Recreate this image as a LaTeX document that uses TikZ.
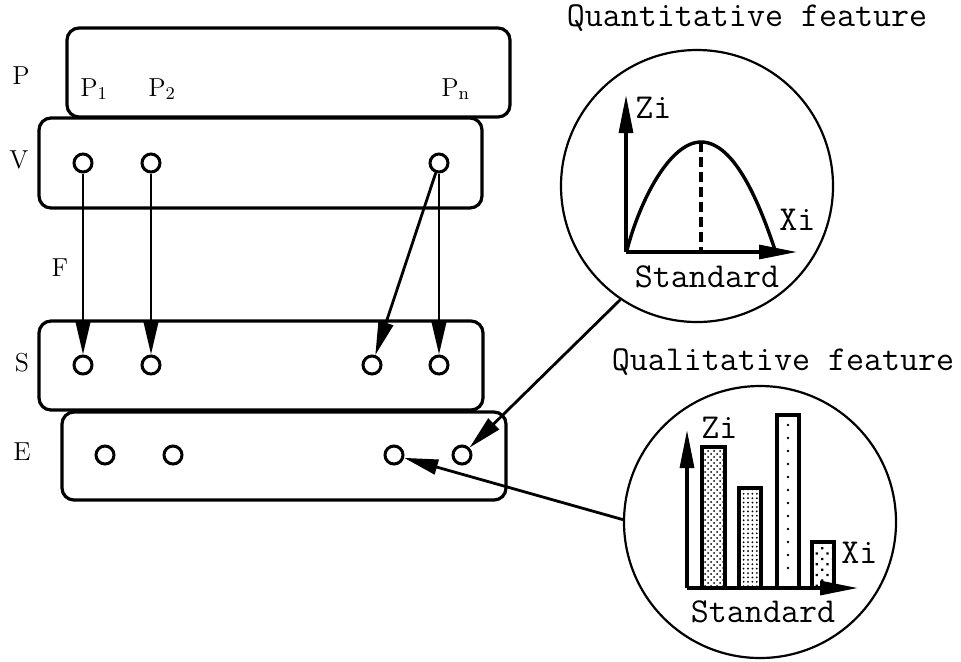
\documentclass[tikz,border=0pt]{standalone}
\usepackage{fontspec}
\usetikzlibrary{arrows.meta, patterns, patterns.meta}
\tikzset{
  grp/.style   ={rounded corners=6pt, draw, line width=1.6pt},
  pt/.style    ={circle, draw, line width=1.5pt, minimum size=9pt, inner sep=0pt},
  lbl/.style   ={font=\fontsize{13}{15}\selectfont, inner sep=0pt},
  mono/.style  ={font=\ttfamily\fontsize{17.5}{20}\selectfont, inner sep=0pt},
  zoomc/.style ={circle, draw, line width=1.1pt, minimum size=136pt, inner sep=0pt},
  ar/.style    ={-{Triangle[length=17pt, width=7.5pt]}, line width=1.4pt},
  ax/.style    ={-{Triangle[length=19pt, width=7pt]}, line width=1.6pt},
  bar/.style   ={draw, line width=2pt},
}
\begin{document}
\begin{tikzpicture}[x=0.5pt, y=-0.5pt]
\useasboundingbox (0,0) rectangle (961,661);
% layer boxes
\draw[grp] (67,28) rectangle (510,117);
\draw[grp] (39,118) rectangle (482,208);
\draw[grp] (39,321) rectangle (483,410);
\draw[grp] (62,412) rectangle (506,500);
% layer names
\node[lbl] (lp) at (21,76) {P};
\node[lbl] (lv) at (19,160) {V};
\node[lbl] (lf) at (60,268) {F};
\node[lbl] (ls) at (22,363) {S};
\node[lbl] (le) at (22,452) {E};
\node[lbl, anchor=west] (p1) at (80,89) {P$_1$};
\node[lbl, anchor=west] (p2) at (148,89) {P$_2$};
\node[lbl, anchor=west] (pn) at (441,89) {P$_{\mathrm{n}}$};
% elements
\node[pt] (v1) at (83,163) {};
\node[pt] (v2) at (151,163) {};
\node[pt] (vn) at (439,163) {};
\node[pt] (s1) at (83,365) {};
\node[pt] (s2) at (151,365) {};
\node[pt] (s3) at (372,365) {};
\node[pt] (s4) at (439,365) {};
\node[pt] (e1) at (105,455) {};
\node[pt] (e2) at (173,455) {};
\node[pt] (e3) at (394,455) {};
\node[pt] (e4) at (462,455) {};
\draw[ar] (v1)--(s1); \draw[ar] (v2)--(s2);
\draw[ar] (vn)--(s3); \draw[ar] (vn)--(s4);
% quantitative feature
\node[mono] (tquant) at (747,18) {Quantitative feature};
\node[zoomc] (quant) at (697,186) {};
\coordinate (o1) at (626,252);
\draw[ax] (o1) -- (626,95);
\draw[ax] (o1) -- (797,252);
\draw[line width=1.7pt] (627,250) .. controls (640,200) and (670,142) .. (701,142)
  .. controls (735,142) and (760,205) .. (775,250);
\draw[line width=1.6pt, dash pattern=on 5pt off 2.5pt] (701,142) -- (701,252);
\node[mono, anchor=west] (zq) at (635,108) {Zi};
\node[mono, anchor=west] (xq) at (779,220) {Xi};
\node[mono] (sq) at (707,277) {Standard};
% qualitative feature
\node[mono] (tqual) at (783,362) {Qualitative feature};
\node[zoomc] (qual) at (760,522) {};
\coordinate (o2) at (687,588);
\draw[bar, pattern=crosshatch dots] (702,588) rectangle (725,447);
\draw[bar, pattern={Dots[distance=2.2pt, radius=0.5pt]}] (739,588) rectangle (761,488);
\draw[bar] (777,588) rectangle (799,415);
\foreach \y in {425,438,...,580} \fill (788,\y) circle (0.7pt);
\draw[bar, pattern={Dots[distance=3.8pt, radius=0.8pt, angle=45]}] (812,588) rectangle (834,542);
\draw[ax] (o2) -- (687,430);
\draw[ax] (o2) -- (858,588);
\node[mono, anchor=west] (zl) at (701,428) {Zi};
\node[mono, anchor=west] (xl) at (841,553) {Xi};
\node[mono] (sl) at (763,612) {Standard};
% links to E
\draw[ar] (quant.236) -- (e4);
\draw[ar] (qual.179) -- (e3);
\end{tikzpicture}
\end{document}
